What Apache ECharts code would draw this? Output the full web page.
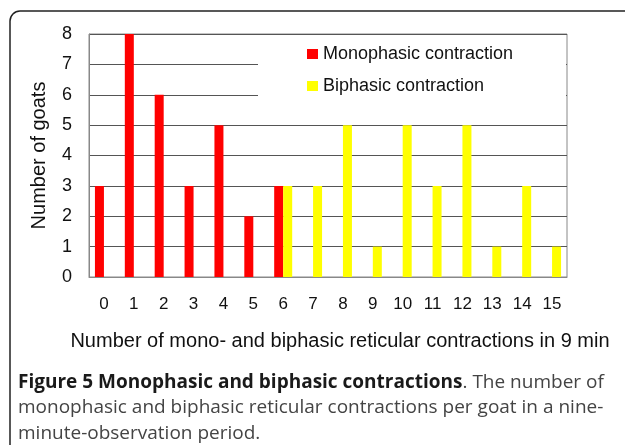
<!DOCTYPE html>
<html>
<head>
<meta charset="utf-8">
<script src="https://cdn.jsdelivr.net/npm/echarts@6/dist/echarts.min.js"></script>
<style>
	html, body { margin: 0; padding: 0; background: #fff; }
	#main-chart { width: 625px; height: 445px; }
</style>
</head>
<body>
<div id="main-chart"></div>
<script>
// categories (number of contractions in 9 min)
var categories = ['0','1','2','3','4','5','6','7','8','9','10','11','12','13','14','15'];
// goats per count
var monoData = [3, 8, 6, 3, 5, 2, 3, 0, 0, 0, 0, 0, 0, 0, 0, 0];
var biData   = [0, 0, 0, 0, 0, 0, 3, 3, 5, 1, 5, 3, 5, 1, 3, 1];
var yTicks = [0, 8, 1]; // min, max, interval

var fontAx = 'Liberation Sans, Arial, sans-serif';
var fontCap = 'Open Sans, sans-serif';

var myChart = echarts.init(document.getElementById('main-chart'));

var option = {
	animation: false,
	backgroundColor: '#fff',
	grid: {
		left: 89,
		right: 58,
		top: 34,
		bottom: 168,
		show: true,
		borderColor: '#888',
		borderWidth: 1
	},
	legend: {
		orient: 'vertical',
		left: 302,
		top: 40,
		itemWidth: 11,
		itemHeight: 10,
		itemGap: 14,
		icon: 'rect',
		textStyle: { fontFamily: fontAx, fontSize: 18, color: '#111' },
		data: ['Monophasic contraction', 'Biphasic contraction']
	},
	xAxis: {
		type: 'category',
		data: categories,
		name: 'Number of mono- and biphasic reticular contractions in 9 min',
		nameLocation: 'middle',
		nameGap: 54,
		nameTextStyle: { fontFamily: fontAx, fontSize: 20, color: '#111', padding: [0, 0, 0, 24] },
		axisLine: { lineStyle: { color: '#888', width: 1 } },
		axisTick: { show: false },
		axisLabel: { fontFamily: fontAx, fontSize: 17, color: '#111', margin: 19 }
	},
	yAxis: {
		type: 'value',
		min: yTicks[0],
		max: yTicks[1],
		interval: yTicks[2],
		name: 'Number of goats',
		nameLocation: 'middle',
		nameGap: 40,
		nameTextStyle: { fontFamily: fontAx, fontSize: 20, color: '#111' },
		axisLine: { show: true, lineStyle: { color: '#888', width: 1 } },
		axisTick: { show: false },
		axisLabel: { fontFamily: fontAx, fontSize: 18, color: '#111', margin: 17 },
		splitLine: { lineStyle: { color: '#555', width: 1 } }
	},
	series: [
		{
			name: 'Monophasic contraction',
			type: 'bar',
			data: monoData,
			barWidth: 9,
			barGap: '0%',
			itemStyle: { color: '#ff0000' }
		},
		{
			name: 'Biphasic contraction',
			type: 'bar',
			data: biData,
			barWidth: 9,
			itemStyle: { color: '#ffff00' }
		}
	],
	graphic: [
		// white box behind the legend
		{ type: 'rect', z: 3, shape: { x: 258, y: 35, width: 308, height: 89 }, style: { fill: '#fff' } },
		// figure frame
		{ type: 'rect', z: 10, shape: { x: 10, y: 11, width: 700, height: 520, r: 10 }, style: { fill: null, stroke: '#222', lineWidth: 1.5 } },
		{
			type: 'text', z: 10, left: 18, top: 373,
			style: {
				text: '{b|Figure 5 Monophasic and biphasic contractions}{r|. The number of}',
				rich: {
					b: { fontFamily: fontCap, fontSize: 19, fontWeight: 'bold', fill: '#1a1a1a' },
					r: { fontFamily: fontCap, fontSize: 19, fill: '#444' }
				}
			}
		},
		{ type: 'text', z: 10, left: 18, top: 398, style: { text: 'monophasic and biphasic reticular contractions per goat in a nine-', font: '19px ' + fontCap, fill: '#444' } },
		{ type: 'text', z: 10, left: 18, top: 424, style: { text: 'minute-observation period.', font: '19px ' + fontCap, fill: '#444' } }
	]
};

myChart.setOption(option);
</script>
</body>
</html>
